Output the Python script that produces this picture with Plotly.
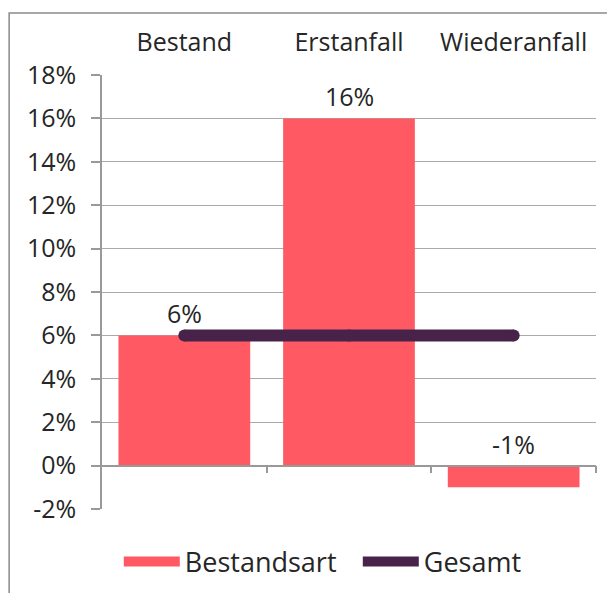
import plotly.graph_objects as go

categories = ["Bestand", "Erstanfall", "Wiederanfall"]
bestandsart = [6, 16, -1]
gesamt = [6, 6, 6]
label_texts = ["6%", "16%", "-1%"]
y_ticks = list(range(-2, 19, 2))
y_tick_labels = [f"{v}%" for v in y_ticks]

xpos = list(range(len(categories)))
FONT = "Open Sans"
TXT = "#262626"
BAR = "#FF5A64"
LINE = "#47234A"

fig = go.Figure()
fig.add_trace(go.Bar(x=xpos, y=bestandsart, name="Bestandsart", width=0.8,
                     showlegend=False,
                     marker=dict(color=BAR, line=dict(width=0))))
# legend entry for bars drawn as a wide block
fig.add_trace(go.Scatter(x=[None], y=[None], name="Bestandsart", mode="lines",
                         line=dict(color=BAR, width=14)))
fig.add_trace(go.Scatter(x=xpos, y=gesamt, name="Gesamt", mode="lines",
                         line=dict(color=LINE, width=12)))
fig.add_trace(go.Scatter(x=xpos, y=gesamt, mode="markers", showlegend=False,
                         hoverinfo="skip",
                         marker=dict(color=LINE, size=12, line=dict(width=0))))
# phantom trace for the zero axis with boundary ticks
fig.add_trace(go.Scatter(x=[None], y=[None], xaxis="x2", showlegend=False))

for x, v, t in zip(xpos, bestandsart, label_texts):
    fig.add_annotation(x=x, y=max(v, 0), text=t, showarrow=False,
                       yanchor="bottom", yshift=3,
                       font=dict(family=FONT, size=25, color=TXT))

fig.update_layout(
    width=607, height=585,
    margin=dict(l=94, r=19, t=67, b=84),
    paper_bgcolor="white", plot_bgcolor="white",
    font=dict(family=FONT, size=25, color=TXT),
    bargap=0.2,
    xaxis=dict(range=[-0.5, 2.5], side="top", tickvals=xpos, ticktext=categories,
               showline=False, showgrid=False, zeroline=False, ticks="",
               ticklabelstandoff=18, tickfont=dict(size=25, color=TXT)),
    xaxis2=dict(range=[-0.5, 2.5], overlaying="x", anchor="free", position=0.1,
                side="bottom", tickvals=[0.5, 1.5, 2.5], ticks="outside", ticklen=7,
                tickcolor="#999999", tickwidth=1.5, showticklabels=False, showline=True,
                linecolor="#999999", linewidth=1.5, showgrid=False, zeroline=False),
    yaxis=dict(range=[-2, 18], tickvals=y_ticks, ticktext=y_tick_labels,
               showgrid=True, gridcolor="#aaaaaa", gridwidth=1.2,
               showline=True, linecolor="#999999", linewidth=1.5,
               ticks="outside", ticklen=9, tickcolor="#999999", tickwidth=1.5,
               ticklabelstandoff=10,
               zeroline=False, tickfont=dict(size=25, color=TXT)),
    legend=dict(orientation="h", x=0.034, xanchor="left",
                yref="container", y=0.053, yanchor="middle",
                font=dict(size=27, color=TXT), bgcolor="rgba(0,0,0,0)",
                itemwidth=56, entrywidth=168, entrywidthmode="pixels"),
    shapes=[dict(type="rect", xref="paper", yref="paper",
                 x0=-0.188, x1=1.3, y0=-0.5, y1=1.143,
                 line=dict(color="#8a8a8a", width=1.5), fillcolor="rgba(0,0,0,0)",
                 layer="below")],
)

fig.write_html("out.html")
